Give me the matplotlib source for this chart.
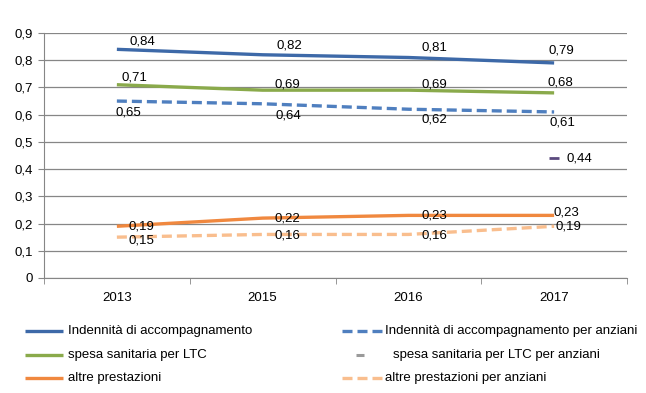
import numpy as np
import matplotlib.pyplot as plt
from matplotlib.lines import Line2D

# Data
years = ['2013', '2015', '2016', '2017']
indennita = [0.84, 0.82, 0.81, 0.79]
indennita_anz = [0.65, 0.64, 0.62, 0.61]
spesa_ltc = [0.71, 0.69, 0.69, 0.68]
spesa_ltc_anz = [np.nan, np.nan, np.nan, 0.44]
altre = [0.19, 0.22, 0.23, 0.23]
altre_anz = [0.15, 0.16, 0.16, 0.19]

plt.rcParams['font.family'] = ['Liberation Sans', 'DejaVu Sans']

W, H = 646, 393
fig = plt.figure(figsize=(W / 100, H / 100), dpi=100)
ax = fig.add_axes([44 / W, 1 - 278 / H, (627 - 44) / W, (278 - 33) / H])

x = np.arange(len(years))

# (values, label, style, label offsets dx (px per point), dy (px, up positive))
series = [
    (indennita, 'Indennità di accompagnamento',
     dict(color='#3D69A8', lw=2.4, ls='-'), [25, 27, 26, 7], [8, 9, 10, 12]),
    (spesa_ltc, 'spesa sanitaria per LTC',
     dict(color='#8AAA4B', lw=2.4, ls='-'), [18, 25, 26, 6], [7, 6, 6, 10]),
    (altre, 'altre prestazioni',
     dict(color='#F0883F', lw=2.4, ls='-'), [25, 25, 26, 12], [0, 0, 0, 3]),
    (indennita_anz, 'Indennità di accompagnamento per anziani',
     dict(color='#4F7FBF', lw=2.4, ls=(0, (3, 1.5))), [12, 26, 26, 8], [-11, -12, -10, -11]),
    (spesa_ltc_anz, 'spesa sanitaria per LTC per anziani',
     dict(color='#5B4A7E', lw=0, marker='_', ms=7, mew=2), [25, 25, 25, 25], [0, 0, 0, 0]),
    (altre_anz, 'altre prestazioni per anziani',
     dict(color='#F9BE8E', lw=2.4, ls=(0, (3, 1.5))), [25, 25, 26, 14], [-3, -1, -1, 0]),
]

for vals, name, style, dxs, dys in series:
    ax.plot(x, vals, label=name, solid_capstyle='butt', **style)
    for xi, v, dx, dy in zip(x, vals, dxs, dys):
        if np.isnan(v):
            continue
        ax.annotate(f'{v:.2f}'.replace('.', ','), (xi, v), xytext=(dx * 0.72, dy * 0.72),
                    textcoords='offset points', ha='center', va='center',
                    fontsize=9.5, color='black')

ax.set_ylim(0, 0.9)
ax.set_xlim(-0.5, len(years) - 0.5)
ax.set_yticks(np.arange(0, 0.91, 0.1))
ax.set_yticklabels(['0'] + [f'{v:.1f}'.replace('.', ',') for v in np.arange(0.1, 0.91, 0.1)])
ax.set_xticks(x)
ax.set_xticklabels(years)
ax.set_xticks(np.arange(-0.5, len(years)), minor=True)
ax.tick_params(axis='x', which='major', length=0, pad=10, labelsize=9.5)
ax.tick_params(axis='x', which='minor', length=4, color='#868686')
ax.tick_params(axis='y', length=4, color='#868686', labelsize=9.5, pad=4)
ax.grid(axis='y', color='#868686', lw=0.9)
ax.set_axisbelow(True)
for s in ['top', 'right']:
    ax.spines[s].set_visible(False)
for s in ['left', 'bottom']:
    ax.spines[s].set_color('#868686')

# legend drawn by hand, Excel style: (handle x0, x1, text x, y) in pixels
leg_pos = [
    (25, 63, 68, 331), (25, 63, 68, 355), (25, 63, 68, 378),
    (342, 383, 385, 331), (355, 365, 393, 355), (342, 383, 385, 378),
]
for (vals, name, style, dxs, dys), (x0, x1, tx, ty) in zip(series, leg_pos):
    yy = 1 - ty / H
    if style.get('marker'):
        fig.add_artist(Line2D([(x0 + x1) / 2 / W], [yy], color='#9A9A9A', lw=0,
                              marker='_', ms=6, mew=2.2))
    else:
        fig.add_artist(Line2D([x0 / W, x1 / W], [yy, yy], color=style['color'],
                              lw=style['lw'], ls=style['ls'], solid_capstyle='butt'))
    fig.text(tx / W, yy, name, fontsize=9.5, va='center', ha='left')

fig.savefig('out.png', dpi=100)
